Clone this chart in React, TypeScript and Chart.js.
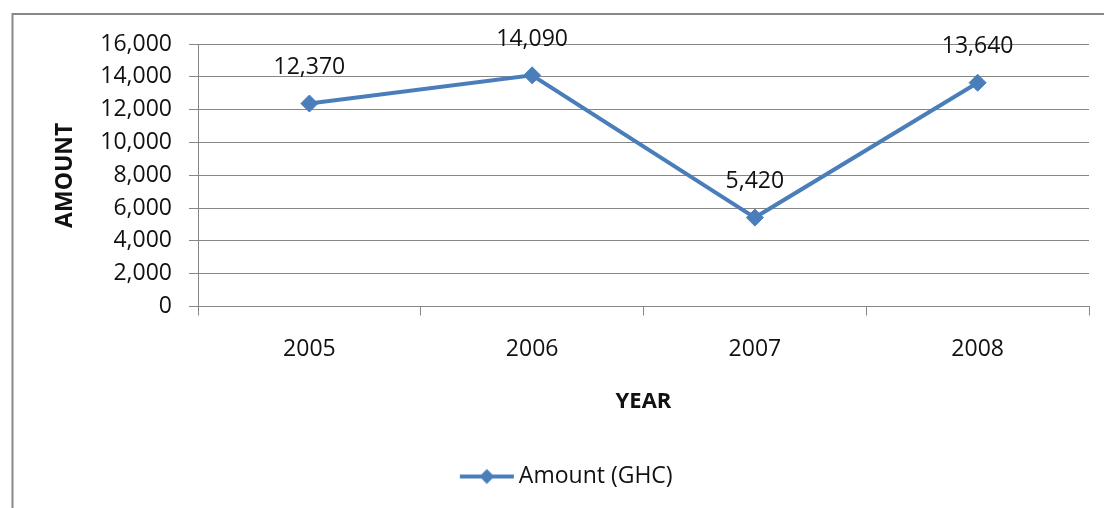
import React, { useEffect, useRef } from "react";
import { Chart, registerables } from "chart.js";

Chart.register(...registerables);

const years: string[] = ["2005", "2006", "2007", "2008"];
const amounts: number[] = [12370, 14090, 5420, 13640];
const seriesLabel = "Amount (GHC)";
const xTitle = "YEAR";
const yTitle = "AMOUNT";
const yMin = 0;
const yMax = 16000;
const yStep = 2000;

const LINE_COLOR = "#4A7EBB";
const GRID_COLOR = "#868686";
const FONT = "'Open Sans', 'DejaVu Sans', sans-serif";
const FS = 23;

function makeLegendIcon(): HTMLCanvasElement {
  const c = document.createElement("canvas");
  c.width = 56;
  c.height = 20;
  const ctx = c.getContext("2d")!;
  ctx.strokeStyle = LINE_COLOR;
  ctx.lineWidth = 4;
  ctx.beginPath();
  ctx.moveTo(1, 10);
  ctx.lineTo(55, 10);
  ctx.stroke();
  ctx.fillStyle = LINE_COLOR;
  ctx.beginPath();
  ctx.moveTo(28, 2.5);
  ctx.lineTo(35.5, 10);
  ctx.lineTo(28, 17.5);
  ctx.lineTo(20.5, 10);
  ctx.closePath();
  ctx.fill();
  return c;
}

const framePlugin = {
  id: "frame",
  beforeDraw(chart: any) {
    const ctx = chart.ctx;
    ctx.save();
    ctx.fillStyle = "#ffffff";
    ctx.fillRect(0, 0, chart.width, chart.height);
    ctx.strokeStyle = "#888888";
    ctx.lineWidth = 2;
    ctx.strokeRect(12.5, 14, 1200, 700);
    ctx.restore();
  },
};

const valueLabelPlugin = {
  id: "valueLabels",
  afterDatasetsDraw(chart: any) {
    const ctx = chart.ctx;
    const meta = chart.getDatasetMeta(0);
    const data = chart.data.datasets[0].data as number[];
    ctx.save();
    ctx.font = `${FS}px ${FONT}`;
    ctx.fillStyle = "#111111";
    ctx.textAlign = "center";
    ctx.textBaseline = "middle";
    meta.data.forEach((pt: any, i: number) => {
      ctx.fillText(data[i].toLocaleString("en-US"), pt.x, pt.y - 36);
    });
    ctx.restore();
  },
};

export default function App() {
  const canvasRef = useRef<HTMLCanvasElement | null>(null);

  useEffect(() => {
    if (!canvasRef.current) return;
    const icon = makeLegendIcon();
    const chart = new Chart(canvasRef.current, {
      type: "line",
      data: {
        labels: years,
        datasets: [
          {
            label: seriesLabel,
            data: amounts,
            borderColor: LINE_COLOR,
            backgroundColor: LINE_COLOR,
            borderWidth: 4,
            pointStyle: "rectRot",
            pointRadius: 8.5,
            pointBorderWidth: 1,
            pointBackgroundColor: LINE_COLOR,
            pointBorderColor: LINE_COLOR,
            tension: 0,
            fill: false,
          },
        ],
      },
      options: {
        responsive: false,
        animation: false,
        devicePixelRatio: 1,
        layout: { padding: { left: 50, top: 44, right: 15, bottom: 10 } },
        plugins: {
          tooltip: { enabled: false },
          legend: {
            position: "bottom",
            labels: {
              usePointStyle: true,
              pointStyle: icon as any,
              pointStyleWidth: 41,
              padding: 10,
              color: "#111111",
              font: { family: FONT, size: FS },
            },
          },
        },
        scales: {
          x: {
            offset: true,
            grid: {
              offset: true,
              drawOnChartArea: false,
              drawTicks: true,
              tickLength: 9,
              color: GRID_COLOR,
            },
            border: { display: true, color: GRID_COLOR, width: 1 },
            ticks: {
              color: "#111111",
              padding: 20,
              font: { family: FONT, size: FS },
              maxRotation: 0,
            },
            title: {
              display: true,
              text: xTitle,
              color: "#111111",
              font: { family: FONT, size: 22, weight: "bold" },
              padding: { top: 0, bottom: 40 },
            },
            afterFit(scale: any) {
              scale.height = 148.5;
            },
          },
          y: {
            min: yMin,
            max: yMax,
            grid: {
              color: GRID_COLOR,
              drawTicks: true,
              tickLength: 9,
            },
            border: { display: true, color: GRID_COLOR, width: 1 },
            ticks: {
              stepSize: yStep,
              color: "#111111",
              padding: 17,
              font: { family: FONT, size: FS },
              callback: (v: any) => Number(v).toLocaleString("en-US"),
            },
            title: {
              display: true,
              text: yTitle,
              color: "#111111",
              font: { family: FONT, size: 23, weight: "bold" },
              padding: { top: 2, bottom: 0 },
            },
            afterFit(scale: any) {
              scale.width = 148;
            },
          },
        },
      },
      plugins: [framePlugin, valueLabelPlugin],
    } as any);
    return () => chart.destroy();
  }, []);

  return (
    <div
      style={{
        position: "fixed",
        left: 0,
        top: 0,
        width: 1104,
        height: 508,
        overflow: "hidden",
        background: "#fff",
      }}
    >
      <canvas ref={canvasRef} width={1104} height={508} style={{ display: "block" }} />
    </div>
  );
}
